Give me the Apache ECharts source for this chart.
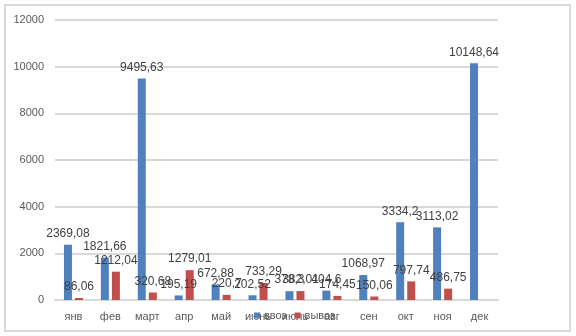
<!DOCTYPE html>
<html>
<head>
<meta charset="utf-8">
<script src="https://cdn.jsdelivr.net/npm/echarts@6/dist/echarts.min.js"></script>
<style>
  html, body { margin: 0; padding: 0; background: #fff; }
  #chart { width: 576px; height: 336px; }
</style>
</head>
<body>
<div id="chart"></div>
<script>
// Monthly volumes: imports (ввоз) and exports (вывоз)
const months = ['янв', 'фев', 'март', 'апр', 'май', 'июнь', 'июль', 'авг', 'сен', 'окт', 'ноя', 'дек'];
const importValues = [2369.08, 1821.66, 9495.63, 195.19, 672.88, 202.52, 378.3, 404.6, 1068.97, 3334.2, 3113.02, 10148.64];
const exportValues = [86.06, 1212.04, 320.68, 1279.01, 220.7, 733.29, 382.01, 174.45, 150.06, 797.74, 486.75, null];
const yTicks = [0, 2000, 4000, 6000, 8000, 10000, 12000];

const textColor = '#595959';
const fontFamily = 'Liberation Sans, Arial, sans-serif';

const fmt = v => String(v).replace('.', ',');

const chart = echarts.init(document.getElementById('chart'), null, { renderer: 'canvas' });

const labelStyle = {
  show: true,
  position: 'top',
  distance: 5,
  color: '#404040',
  fontSize: 12,
  fontFamily: fontFamily,
  formatter: p => (p.value == null ? '' : fmt(p.value))
};

chart.setOption({
  animation: false,
  backgroundColor: '#fff',
  graphic: [{
    type: 'rect',
    shape: { x: 5, y: 5, width: 565, height: 326 },
    style: { fill: 'none', stroke: '#d9d9d9', lineWidth: 2 },
    silent: true
  }],
  grid: { left: 55, right: 78, top: 20, bottom: 36, containLabel: false },
  legend: {
    data: ['ввоз', 'вывоз'],
    left: 249,
    top: 305,
    itemWidth: 6,
    itemHeight: 6,
    itemGap: 8,
    icon: 'rect',
    textStyle: { color: textColor, fontSize: 11, fontFamily: fontFamily, padding: [0, 0, 0, -1] }
  },
  xAxis: {
    type: 'category',
    data: months,
    axisLine: { lineStyle: { color: '#d9d9d9', width: 2 } },
    axisTick: { show: false },
    axisLabel: { color: textColor, fontSize: 11, fontFamily: fontFamily, margin: 11 }
  },
  yAxis: {
    type: 'value',
    min: yTicks[0],
    max: yTicks[yTicks.length - 1],
    interval: yTicks[1] - yTicks[0],
    axisLine: { show: false },
    axisTick: { show: false },
    axisLabel: {
      color: textColor, fontSize: 11, fontFamily: fontFamily, margin: 11,
      formatter: v => String(v)
    },
    splitLine: { lineStyle: { color: '#d9d9d9', width: 2 } }
  },
  series: [
    {
      name: 'ввоз',
      type: 'bar',
      data: importValues,
      barWidth: 8,
      barGap: '38%',
      itemStyle: { color: '#4f81bd' },
      label: labelStyle
    },
    {
      name: 'вывоз',
      type: 'bar',
      data: exportValues,
      barWidth: 8,
      itemStyle: { color: '#c0504d' },
      label: labelStyle
    }
  ]
});
</script>
</body>
</html>
